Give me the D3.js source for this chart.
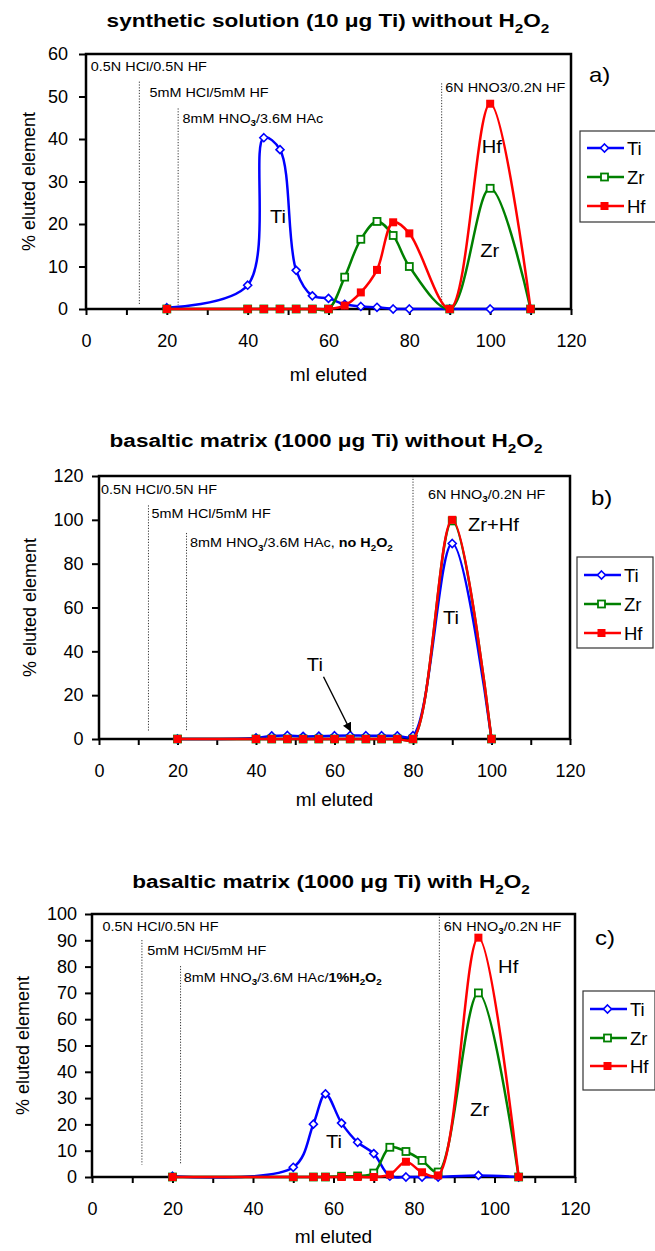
<!DOCTYPE html>
<html>
<head>
<meta charset="utf-8">
<script src="https://cdn.jsdelivr.net/npm/d3@7"></script>
<style>
  body { margin: 0; background: #fff; }
  text { font-family: "Liberation Sans", Arial, sans-serif; fill: #000; }
</style>
</head>
<body>
<script>
// elution curves of Ti, Zr, Hf for three column experiments
const elements = ["Ti", "Zr", "Hf"];
const colors = {Ti: "#0000ff", Zr: "#008000", Hf: "#ff0000"};

const xTicks = [0, 10, 20, 30, 40, 50, 60, 70, 80, 90, 100, 110, 120];
const xTickLabels = [0, 20, 40, 60, 80, 100, 120];

// a) synthetic solution (10 ug Ti) without H2O2
const mlA = [20, 40, 44, 48, 52, 56, 60, 64, 68, 72, 76, 80, 90, 100, 110];
const tiA = [0.3, 5.6, 40.3, 37.5, 9.1, 3.1, 2.5, 1.1, 0.6, 0.4, 0, 0, 0, 0, 0];
const zrA = [0, 0, 0, 0, 0, 0, 0, 7.5, 16.4, 20.6, 17.3, 10, 0, 28.4, 0];
const hfA = [0, 0, 0, 0, 0, 0, 0, 0.8, 3.9, 9.2, 20.4, 17.8, 0, 48.3, 0];
const yTicksA = [0, 10, 20, 30, 40, 50, 60];

// b) basaltic matrix (1000 ug Ti) without H2O2
const mlB = [20, 40, 44, 48, 52, 56, 60, 64, 68, 72, 76, 80, 90, 100];
const tiB = [0, 0.5, 1.4, 1.6, 1.2, 1.3, 1.5, 1.6, 1.5, 1.5, 1.4, 1.5, 89.2, 0];
const zrB = [0, 0, 0, 0, 0, 0, 0, 0, 0, 0, 0, 0, 99.5, 0];
const hfB = [0, 0, 0, 0, 0, 0, 0, 0, 0, 0, 0, 0, 100, 0];
const yTicksB = [0, 20, 40, 60, 80, 100, 120];

// c) basaltic matrix (1000 ug Ti) with H2O2
const mlC = [20, 50, 55, 58, 62, 66, 70, 74, 78, 82, 86, 96, 106];
const tiC = [0.3, 3.7, 20.1, 31.6, 20.5, 13.2, 8.9, 0.3, 0, 0, 0, 0.6, 0];
const zrC = [0, 0, 0, 0, 0.3, 0.4, 1.5, 11.3, 9.7, 6.3, 1.9, 70, 0];
const hfC = [0, 0, 0, 0, 0, 0, 0, 0.9, 5.8, 1.8, 0.6, 91, 0];
const yTicksC = [0, 10, 20, 30, 40, 50, 60, 70, 80, 90, 100];

const panels = [
  {
    title: ["synthetic solution (10 μg Ti) without H", ["2", "sub"], "O", ["2", "sub"]],
    titleX: 328, titleY: 27,
    box: {l: 86, r: 571, t: 54, b: 309},
    yMax: 60, yTicks: yTicksA, yPad: 11, xPad: 19, xTitleY: 381, yTitleX: 34.5,
    ml: mlA, series: {Ti: tiA, Zr: zrA, Hf: hfA},
    cuts: [{ml: 13.2, top: 53.5}, {ml: 22.8, top: 47.2}, {ml: 88, top: 53.1}], cutBottom: 0.9,
    notes: [
      {ml: 1.2, v: 56.1, parts: ["0.5N HCl/0.5N HF"]},
      {ml: 15.7, v: 49.9, parts: ["5mM HCl/5mM HF"]},
      {ml: 23.9, v: 43.8, parts: ["8mM HNO", ["3", "sub"], "/3.6M HAc"]},
      {ml: 88.9, v: 51.1, parts: ["6N HNO3/0.2N HF"]}
    ],
    labels: [
      {ml: 47.5, v: 20.2, text: "Ti"},
      {ml: 100.4, v: 36.7, text: "Hf"},
      {ml: 99.9, v: 12.3, text: "Zr"}
    ],
    tag: {text: "a)", x: 589, y: 82},
    legend: {x: 580, y: 131, w: 76, h: 91, rows: [148, 177, 206]}
  },
  {
    title: ["basaltic matrix (1000 μg Ti) without H", ["2", "sub"], "O", ["2", "sub"]],
    titleX: 326, titleY: 447,
    box: {l: 99, r: 570, t: 476, b: 739},
    yMax: 120, yTicks: yTicksB, yPad: 8.5, xPad: 19, xTitleY: 806, yTitleX: 35.5,
    ml: mlB, series: {Ti: tiB, Zr: zrB, Hf: hfB},
    cuts: [{ml: 12.6, top: 106.6}, {ml: 22.3, top: 94}, {ml: 80, top: 120}], cutBottom: 3.3,
    notes: [
      {ml: 0.5, v: 111.9, parts: ["0.5N HCl/0.5N HF"]},
      {ml: 13.4, v: 100.7, parts: ["5mM HCl/5mM HF"]},
      {ml: 23.2, v: 87.6, parts: ["8mM HNO", ["3", "sub"], "/3.6M HAc, ", ["no H", "b"], ["2", "bsub"], ["O", "b"], ["2", "bsub"]]},
      {ml: 83.8, v: 109.7, parts: ["6N HNO", ["3", "sub"], "/0.2N HF"]}
    ],
    labels: [
      {ml: 94, v: 95, text: "Zr+Hf", anchor: "start"},
      {ml: 89.7, v: 52.4, text: "Ti"},
      {ml: 55, v: 31, text: "Ti"}
    ],
    arrow: {from: [57.2, 28.4], to: [64.2, 3.3]},
    tag: {text: "b)", x: 591, y: 505},
    legend: {x: 577, y: 557, w: 76, h: 91, rows: [575, 604, 633]}
  },
  {
    title: ["basaltic matrix (1000 μg Ti) with H", ["2", "sub"], "O", ["2", "sub"]],
    titleX: 331, titleY: 888,
    box: {l: 92, r: 575, t: 914, b: 1177},
    yMax: 100, yTicks: yTicksC, yPad: 8, xPad: 19.2, xTitleY: 1243, yTitleX: 29,
    ml: mlC, series: {Ti: tiC, Zr: zrC, Hf: hfC},
    cuts: [{ml: 12.4, top: 90.1}, {ml: 22, top: 80.2}, {ml: 86.3, top: 100}], cutBottom: 4.7,
    notes: [
      {ml: 2.6, v: 93.7, parts: ["0.5N HCl/0.5N HF"]},
      {ml: 13.7, v: 84.4, parts: ["5mM HCl/5mM HF"]},
      {ml: 22.8, v: 74.3, parts: ["8mM HNO", ["3", "sub"], "/3.6M HAc/", ["1%H", "b"], ["2", "bsub"], ["O", "b"], ["2", "bsub"]]},
      {ml: 87.4, v: 93.7, parts: ["6N HNO", ["3", "sub"], "/0.2N HF"]}
    ],
    labels: [
      {ml: 103.4, v: 77.6, text: "Hf"},
      {ml: 96.3, v: 23.3, text: "Zr"},
      {ml: 60.1, v: 11.1, text: "Ti"}
    ],
    tag: {text: "c)", x: 595, y: 945},
    legend: {x: 583, y: 991, w: 72, h: 99, rows: [1009, 1038, 1066]}
  }
];

const svg = d3.select("body").append("svg")
  .attr("width", 655)
  .attr("height", 1251);

svg.append("defs").append("marker")
  .attr("id", "head")
  .attr("viewBox", "0 0 10 10")
  .attr("refX", 10).attr("refY", 5)
  .attr("markerWidth", 9).attr("markerHeight", 9)
  .attr("markerUnits", "userSpaceOnUse")
  .attr("orient", "auto")
  .append("path").attr("d", "M0,0L10,5L0,10Z").attr("fill", "#000");

// text with sub/bold pieces, stretched a little in x like the original
function rich(parent, x, y, parts, size, sx, anchor) {
  const t = parent.append("text")
    .attr("transform", `translate(${x},${y}) scale(${sx},1)`)
    .attr("font-size", size)
    .attr("text-anchor", anchor || "start");
  let shift = 0;
  parts.forEach(part => {
    const [str, st = ""] = Array.isArray(part) ? part : [part];
    const sub = st.includes("sub");
    const down = sub ? size * 0.3 : 0;
    t.append("tspan").text(str)
      .attr("dy", down - shift)
      .attr("font-size", sub ? size * 0.68 : null)
      .attr("font-weight", st.includes("b") ? "bold" : null);
    shift = down;
  });
  return t;
}

function drawMarker(sel, el) {
  if (el === "Ti") {
    sel.append("path").attr("d", "M0,-4L4,0L0,4L-4,0Z")
      .attr("fill", "#fff").attr("stroke", colors.Ti).attr("stroke-width", 1.6);
  } else if (el === "Zr") {
    sel.append("rect").attr("x", -3.5).attr("y", -3.5).attr("width", 7).attr("height", 7)
      .attr("fill", "#fff").attr("stroke", colors.Zr).attr("stroke-width", 1.8);
  } else {
    sel.append("rect").attr("x", -4).attr("y", -4).attr("width", 8).attr("height", 8)
      .attr("fill", colors.Hf);
  }
}

function styleAxis(g) {
  g.attr("font-size", 18).attr("font-family", null);
  g.select(".domain").remove();
  g.selectAll(".tick line").attr("stroke", "#000").attr("stroke-width", 2);
  g.selectAll(".tick text").attr("fill", "#000");
}

function drawPanel(p) {
  const g = svg.append("g");
  const x = d3.scaleLinear([0, 120], [p.box.l, p.box.r]);
  const y = d3.scaleLinear([0, p.yMax], [p.box.b, p.box.t]);

  rich(g, p.titleX, p.titleY, p.title, 18.5, 1.22, "middle").attr("font-weight", "bold");

  g.append("rect")
    .attr("x", p.box.l).attr("y", p.box.t)
    .attr("width", p.box.r - p.box.l).attr("height", p.box.b - p.box.t)
    .attr("fill", "none").attr("stroke", "#000").attr("stroke-width", 2.5);

  g.append("g")
    .attr("transform", `translate(0,${p.box.b})`)
    .call(d3.axisBottom(x).tickValues(xTicks)
      .tickFormat(d => xTickLabels.includes(d) ? d : "")
      .tickSize(6).tickSizeOuter(0).tickPadding(p.xPad))
    .call(styleAxis);

  g.append("g")
    .attr("transform", `translate(${p.box.l},0)`)
    .call(d3.axisLeft(y).tickValues(p.yTicks).tickSize(7).tickSizeOuter(0).tickPadding(p.yPad))
    .call(styleAxis);

  // axis titles
  rich(g, (p.box.l + p.box.r) / 2, p.xTitleY, ["ml eluted"], 18, 1.06, "middle");
  g.append("text")
    .attr("transform", `translate(${p.yTitleX},${(p.box.t + p.box.b) / 2}) rotate(-90)`)
    .attr("text-anchor", "middle")
    .attr("font-size", 18)
    .text("% eluted element");

  // eluent changes
  g.selectAll(".cut").data(p.cuts).enter().append("line")
    .attr("class", "cut")
    .attr("x1", d => x(d.ml)).attr("x2", d => x(d.ml))
    .attr("y1", d => y(d.top)).attr("y2", y(p.cutBottom))
    .attr("stroke", "#000").attr("stroke-width", 0.8)
    .attr("stroke-dasharray", "1.2,1.6");

  p.notes.forEach(n => rich(g, x(n.ml), y(n.v), n.parts, 12, 1.2, "start"));

  // series: line then markers, Hf on top
  const line = d3.line()
    .x(d => x(d[0]))
    .y(d => y(d[1]))
    .curve(d3.curveCatmullRom.alpha(0.5));

  elements.forEach(el => {
    const pts = p.ml.map((m, i) => [m, p.series[el][i]]);
    g.append("path").datum(pts)
      .attr("d", line)
      .attr("fill", "none")
      .attr("stroke", colors[el])
      .attr("stroke-width", 2.5);
    g.selectAll(".m" + el).data(pts).enter().append("g")
      .attr("class", "m" + el)
      .attr("transform", d => `translate(${x(d[0])},${y(d[1])})`)
      .each(function() { drawMarker(d3.select(this), el); });
  });

  p.labels.forEach(l => rich(g, x(l.ml), y(l.v), [l.text], 18, 1.12, l.anchor || "middle"));

  if (p.arrow) {
    g.append("line")
      .attr("x1", x(p.arrow.from[0])).attr("y1", y(p.arrow.from[1]))
      .attr("x2", x(p.arrow.to[0])).attr("y2", y(p.arrow.to[1]))
      .attr("stroke", "#000").attr("stroke-width", 1.4)
      .attr("marker-end", "url(#head)");
  }

  rich(g, p.tag.x, p.tag.y, [p.tag.text], 20, 1.2, "start");

  // legend
  const lg = p.legend;
  g.append("rect")
    .attr("x", lg.x).attr("y", lg.y).attr("width", lg.w).attr("height", lg.h)
    .attr("fill", "#fff").attr("stroke", "#333").attr("stroke-width", 1.2);
  elements.forEach((el, i) => {
    const row = g.append("g").attr("transform", `translate(${lg.x},${lg.rows[i]})`);
    row.append("line").attr("x1", 7).attr("x2", 44)
      .attr("stroke", colors[el]).attr("stroke-width", 2.5);
    drawMarker(row.append("g").attr("transform", "translate(24.5,0)"), el);
    row.append("text").attr("x", 47).attr("dy", "0.36em")
      .attr("font-size", 18.5).text(el);
  });
}

panels.forEach(drawPanel);
</script>
</body>
</html>
